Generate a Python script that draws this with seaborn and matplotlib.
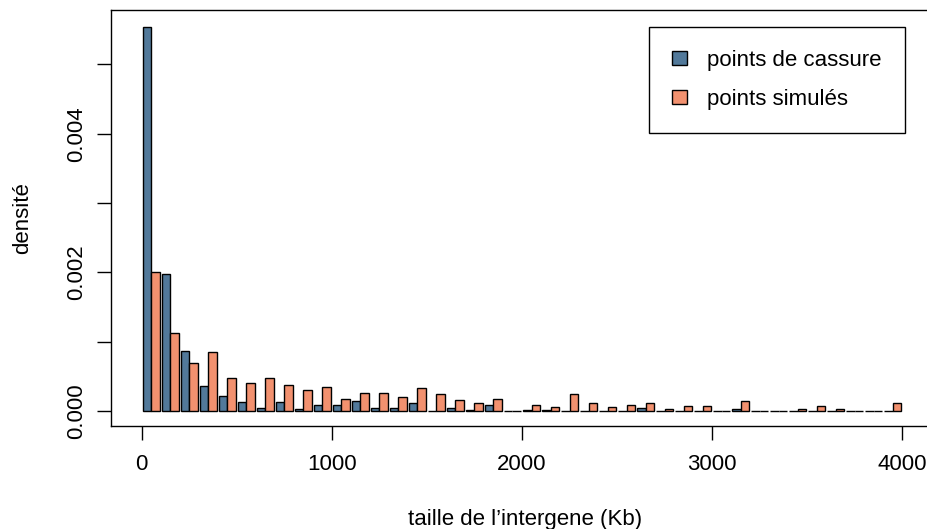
import pandas as pd
import matplotlib
matplotlib.use('Agg')
import matplotlib.pyplot as plt
import seaborn as sns
from matplotlib.ticker import FixedLocator, FixedFormatter

# histogram bins (Kb), width 100
bin_starts = list(range(0, 4000, 100))

# densities, in units of 1e-3
cassure_e3 = [5.54, 1.976, 0.87, 0.365, 0.216, 0.125, 0.05, 0.125, 0.035, 0.087,
              0.08, 0.15, 0.04, 0.04, 0.11, 0.0, 0.05, 0.02, 0.08, 0.0,
              0.02, 0.02, 0.0, 0.0, 0.0, 0.0, 0.04, 0.0, 0.0, 0.0,
              0.0, 0.03, 0.0, 0.0, 0.0, 0.0, 0.0, 0.0, 0.0, 0.0]
simules_e3 = [2.0, 1.12, 0.69, 0.846, 0.48, 0.40, 0.48, 0.375, 0.30, 0.34,
              0.17, 0.26, 0.26, 0.20, 0.33, 0.245, 0.16, 0.11, 0.17, 0.0,
              0.09, 0.065, 0.25, 0.115, 0.065, 0.09, 0.115, 0.03, 0.07, 0.07,
              0.0, 0.14, 0.0, 0.0, 0.03, 0.07, 0.03, 0.0, 0.0, 0.11]

series_names = ['points de cassure', 'points simulés']
colors = ['#52799A', '#F2916F']

x_ticks = [0, 1000, 2000, 3000, 4000]
y_ticks = [0.0, 0.001, 0.002, 0.003, 0.004, 0.005]
y_labels = ['0.000', '', '0.002', '', '0.004', '']

rows = []
for name, vals in zip(series_names, [cassure_e3, simules_e3]):
    for start, v in zip(bin_starts, vals):
        rows.append({'taille': start + 50, 'densite': v * 1e-3, 'serie': name})
df = pd.DataFrame(rows)

sns.set_style('ticks')
plt.rcParams['font.family'] = ['Liberation Sans', 'DejaVu Sans']
plt.rcParams['font.size'] = 16
plt.rcParams['text.color'] = 'black'
plt.rcParams['axes.labelcolor'] = 'black'
plt.rcParams['xtick.color'] = 'black'
plt.rcParams['ytick.color'] = 'black'

W, H = 928, 529
fig = plt.figure(figsize=(W / 100, H / 100), dpi=100)
ax = fig.add_axes([111 / W, 1 - 426 / H, (940 - 111) / W, (426 - 10) / H])

sns.barplot(data=df, x='taille', y='densite', hue='serie', hue_order=series_names,
            palette=colors, native_scale=True, dodge=True, width=0.91,
            edgecolor='black', linewidth=1.0, saturation=1, errorbar=None,
            legend=False, ax=ax)

ax.set_xlim(-161.5, 4198.3)
ax.set_ylim(-0.000216, 0.005784)

ax.xaxis.set_major_locator(FixedLocator(x_ticks))
ax.xaxis.set_major_formatter(FixedFormatter([str(t) for t in x_ticks]))
ax.yaxis.set_major_locator(FixedLocator(y_ticks))
ax.yaxis.set_major_formatter(FixedFormatter(y_labels))
for lab in ax.get_yticklabels():
    lab.set_rotation(90)
    lab.set_va('center')

ax.tick_params(axis='both', direction='out', length=10, width=1.0, colors='black', labelsize=16)
ax.tick_params(axis='x', pad=10)
ax.tick_params(axis='y', pad=7)

for side in ['top', 'left', 'bottom', 'right']:
    ax.spines[side].set_linewidth(1.0)
    ax.spines[side].set_color('black')

ax.set_xlabel("taille de l\u2019intergene (Kb)", fontsize=16, labelpad=25, color='black')
ax.set_ylabel('densité', fontsize=16, labelpad=24, color='black')

leg = ax.legend(handles=list(ax.containers), labels=series_names, loc='upper right',
                bbox_to_anchor=(905 / W, 1 - 27 / H), bbox_transform=fig.transFigure,
                borderaxespad=0, fancybox=False, edgecolor='black', framealpha=1,
                handlelength=0.7, handleheight=0.62, handletextpad=0.9,
                borderpad=1.04, labelspacing=0.8, fontsize=16)
leg.get_frame().set_linewidth(1.0)
for t in leg.get_texts():
    t.set_color('black')

fig.savefig('out.png', dpi=100)
